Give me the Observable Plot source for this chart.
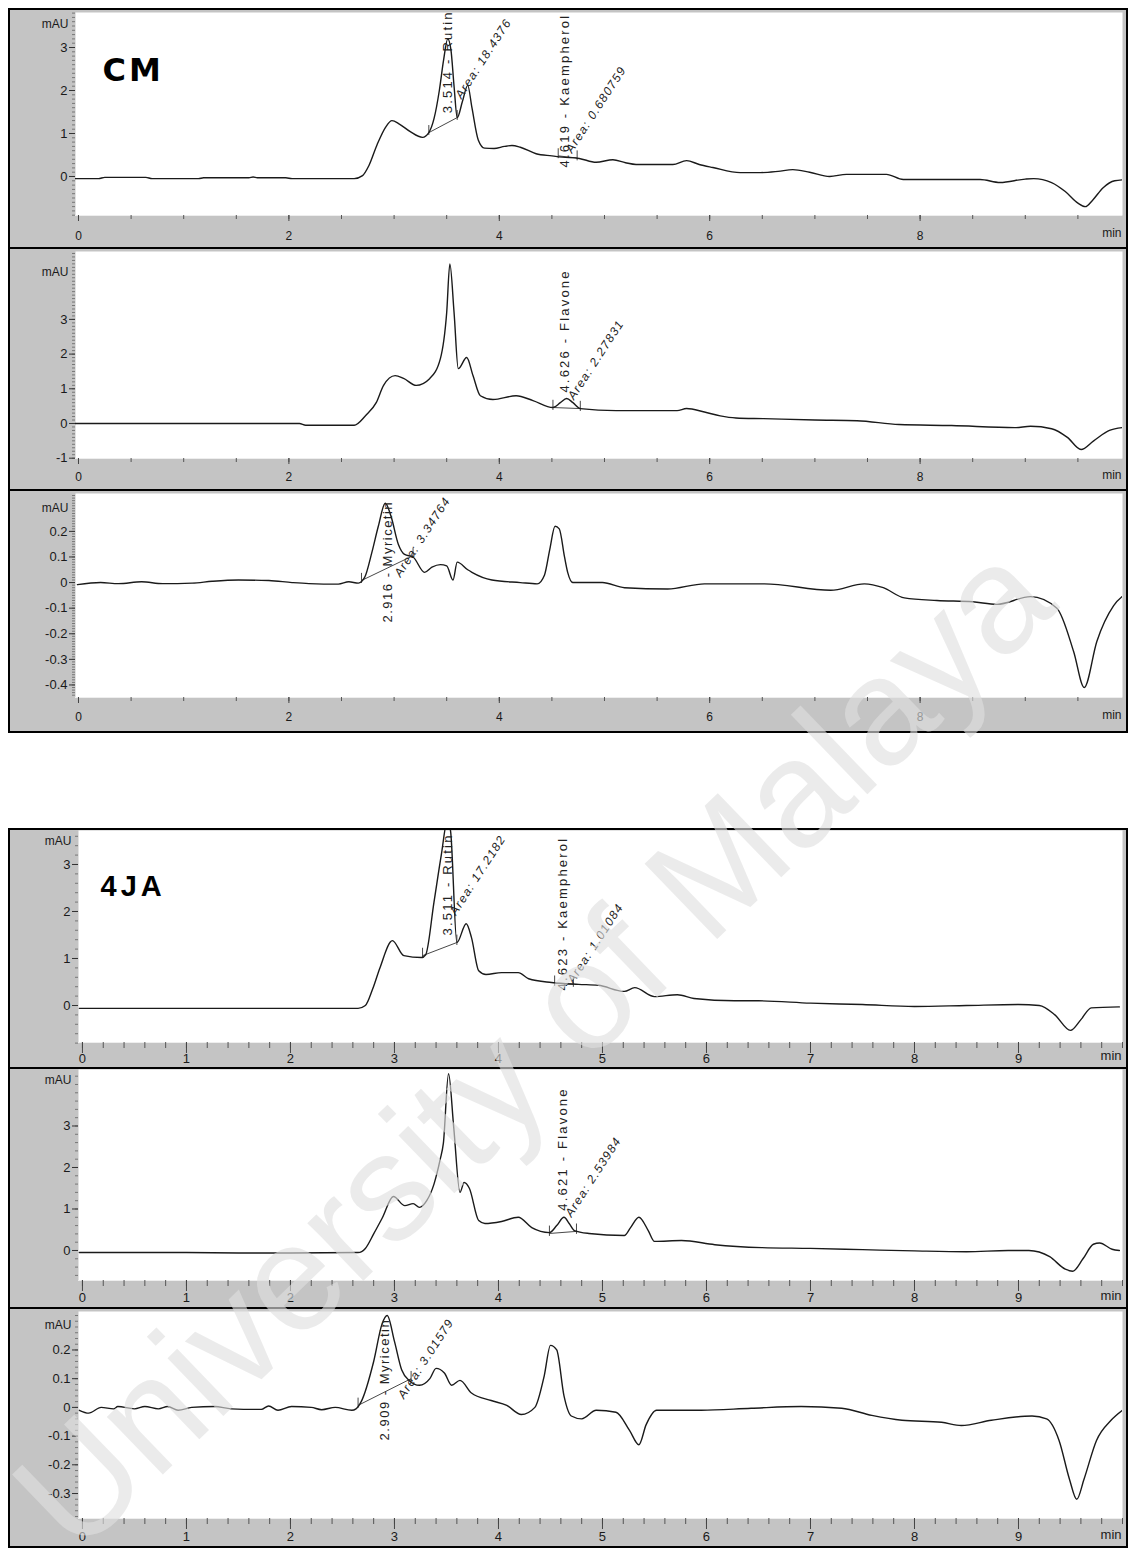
<!DOCTYPE html>
<html><head><meta charset="utf-8">
<script src="https://cdn.jsdelivr.net/npm/d3@7"></script>
<script src="https://cdn.jsdelivr.net/npm/@observablehq/plot@0.6"></script>
<style>
body{margin:0;background:#fff;}
#page{position:relative;width:1130px;height:1548px;overflow:hidden;background:#fff;font-family:Arial,"Liberation Sans",sans-serif;}
.box{position:absolute;border:2px solid #000;box-sizing:border-box;}
.sep{position:absolute;height:2px;background:#000;}
.panel{position:absolute;}
.panel svg{display:block;}
#wm{position:absolute;left:532px;top:1045px;transform:translate(-50%,-50%) rotate(-44deg);white-space:nowrap;font:152px Arial,"Liberation Sans",sans-serif;color:rgba(222,222,222,0.62);pointer-events:none;}
</style></head>
<body><div id="page"></div>
<script>
// ---------- data (time in min, absorbance in mAU) ----------
const sampleTags = ["CM", "4JA"];
const axisUnit = "mAU";
const timeUnit = "min";

const cmTraceA = [[-0.03,-0.05],[0.19,-0.05],[0.25,-0.02],[0.64,-0.02],[0.7,-0.05],[1.14,-0.05],[1.19,-0.03],[1.62,-0.03],[1.66,-0.01],[1.7,-0.03],[1.97,-0.03],[2.03,-0.05],[2.62,-0.05],[2.7,0.02],[2.76,0.25],[2.84,0.75],[2.92,1.15],[2.98,1.3],[3.05,1.22],[3.15,1.05],[3.27,0.91],[3.33,1.02],[3.38,1.35],[3.43,2.0],[3.47,2.7],[3.51,3.2],[3.54,2.95],[3.57,2.1],[3.6,1.37],[3.65,1.75],[3.7,2.12],[3.74,1.6],[3.8,0.85],[3.86,0.66],[3.95,0.65],[4.05,0.7],[4.12,0.72],[4.2,0.68],[4.35,0.53],[4.5,0.48],[4.6,0.45],[4.76,0.42],[4.92,0.33],[5.08,0.39],[5.2,0.32],[5.3,0.28],[5.65,0.28],[5.78,0.37],[5.9,0.28],[6.03,0.21],[6.29,0.09],[6.48,0.09],[6.65,0.12],[6.79,0.16],[6.95,0.1],[7.14,0.0],[7.3,0.05],[7.68,0.05],[7.84,-0.07],[8.57,-0.07],[8.76,-0.14],[9.0,-0.06],[9.08,-0.05],[9.25,-0.14],[9.38,-0.35],[9.5,-0.62],[9.57,-0.7],[9.64,-0.55],[9.74,-0.26],[9.85,-0.1],[9.97,-0.07]];
const cmTraceB = [[-0.03,0],[0.5,0],[1.0,0],[1.5,0],[2.1,0],[2.16,-0.05],[2.62,-0.05],[2.73,0.23],[2.83,0.6],[2.9,1.1],[3.01,1.38],[3.09,1.3],[3.21,1.1],[3.34,1.3],[3.44,1.87],[3.5,3.2],[3.53,4.6],[3.57,3.2],[3.61,1.58],[3.69,1.9],[3.75,1.38],[3.82,0.8],[3.94,0.69],[4.16,0.8],[4.32,0.66],[4.51,0.46],[4.58,0.6],[4.64,0.72],[4.7,0.6],[4.77,0.43],[5.11,0.37],[5.69,0.37],[5.78,0.43],[5.95,0.33],[6.1,0.22],[6.25,0.16],[6.51,0.14],[7.0,0.1],[7.4,0.08],[7.8,-0.03],[8.3,-0.06],[8.9,-0.12],[9.05,-0.08],[9.25,-0.15],[9.4,-0.4],[9.53,-0.75],[9.65,-0.5],[9.8,-0.2],[9.92,-0.12]];
const cmTraceC = [[-0.01,-0.008],[0.21,0.0],[0.38,-0.004],[0.6,0.003],[0.8,-0.004],[1.08,-0.002],[1.27,0.005],[1.52,0.01],[1.81,0.008],[2.03,0.0],[2.19,-0.004],[2.47,-0.006],[2.57,0.003],[2.66,-0.002],[2.72,0.02],[2.79,0.12],[2.85,0.22],[2.916,0.31],[2.97,0.26],[3.04,0.15],[3.1,0.11],[3.18,0.1],[3.29,0.04],[3.36,0.06],[3.44,0.07],[3.5,0.065],[3.56,0.01],[3.6,0.08],[3.7,0.05],[3.74,0.04],[3.93,0.01],[4.2,0.0],[4.36,-0.005],[4.43,0.03],[4.48,0.13],[4.53,0.22],[4.57,0.21],[4.62,0.1],[4.65,0.04],[4.7,0.0],[4.98,0.0],[5.19,-0.02],[5.6,-0.025],[5.95,-0.005],[6.52,-0.005],[7.15,-0.03],[7.47,-0.005],[7.65,-0.02],[7.85,-0.06],[8.16,-0.07],[8.5,-0.075],[8.73,-0.085],[9.05,-0.055],[9.3,-0.1],[9.46,-0.27],[9.56,-0.41],[9.68,-0.23],[9.84,-0.09],[9.95,-0.045]];
const jaTraceA = [[-0.03,-0.06],[1.0,-0.06],[2.0,-0.06],[2.65,-0.06],[2.72,0.0],[2.79,0.35],[2.86,0.8],[2.98,1.38],[3.09,1.06],[3.26,1.02],[3.3,1.08],[3.38,2.2],[3.45,3.2],[3.51,3.95],[3.54,3.7],[3.6,1.34],[3.69,1.74],[3.74,1.45],[3.81,0.74],[3.88,0.66],[4.03,0.7],[4.19,0.7],[4.29,0.57],[4.51,0.49],[4.77,0.45],[4.96,0.43],[5.21,0.3],[5.31,0.38],[5.5,0.19],[5.72,0.23],[5.88,0.15],[6.27,0.1],[6.5,0.1],[7.0,0.05],[7.5,0.02],[8.0,-0.02],[8.5,0.0],[9.0,0.02],[9.2,0.0],[9.35,-0.2],[9.5,-0.53],[9.6,-0.3],[9.7,-0.05],[9.97,-0.03]];
const jaTraceB = [[-0.03,-0.05],[1.0,-0.05],[1.5,-0.06],[2.0,-0.06],[2.65,-0.05],[2.72,0.05],[2.8,0.4],[2.88,0.77],[2.99,1.3],[3.1,1.08],[3.18,1.13],[3.24,1.04],[3.31,1.2],[3.38,1.6],[3.44,2.2],[3.47,2.58],[3.52,4.26],[3.57,2.96],[3.63,1.4],[3.67,1.64],[3.72,1.5],[3.81,0.72],[3.87,0.65],[4.03,0.7],[4.19,0.8],[4.32,0.55],[4.49,0.43],[4.56,0.6],[4.63,0.8],[4.68,0.65],[4.73,0.48],[4.87,0.41],[5.21,0.36],[5.27,0.55],[5.35,0.8],[5.44,0.48],[5.5,0.22],[5.76,0.24],[6.08,0.14],[6.53,0.07],[7.0,0.05],[7.5,0.02],[8.0,-0.01],[8.5,-0.03],[8.9,0.0],[9.1,0.0],[9.3,-0.15],[9.45,-0.45],[9.52,-0.5],[9.62,-0.2],[9.72,0.15],[9.78,0.18],[9.9,0.03],[9.97,0.0]];
const jaTraceC = [[-0.03,-0.01],[0.06,-0.02],[0.18,0.0],[0.3,-0.005],[0.34,0.003],[0.5,-0.005],[0.6,0.003],[0.73,-0.005],[0.82,0.003],[0.92,-0.01],[1.05,0.0],[1.27,0.003],[1.43,-0.005],[1.72,-0.007],[1.79,0.005],[1.88,-0.01],[2.01,0.003],[2.2,0.0],[2.3,-0.008],[2.43,0.0],[2.59,-0.01],[2.63,-0.005],[2.68,0.02],[2.8,0.16],[2.88,0.29],[2.93,0.32],[3.0,0.23],[3.07,0.13],[3.14,0.094],[3.24,0.077],[3.34,0.1],[3.4,0.136],[3.48,0.12],[3.55,0.077],[3.63,0.094],[3.74,0.05],[3.93,0.024],[4.08,0.007],[4.22,-0.025],[4.35,0.0],[4.44,0.11],[4.5,0.216],[4.56,0.2],[4.63,0.04],[4.7,-0.03],[4.8,-0.04],[4.94,-0.01],[5.13,-0.017],[5.26,-0.08],[5.35,-0.13],[5.42,-0.06],[5.52,-0.01],[5.95,-0.01],[6.43,-0.003],[6.91,0.003],[7.3,-0.003],[7.59,-0.028],[7.88,-0.045],[8.26,-0.052],[8.45,-0.063],[8.74,-0.045],[9.13,-0.03],[9.27,-0.04],[9.39,-0.115],[9.49,-0.25],[9.56,-0.32],[9.63,-0.25],[9.75,-0.115],[9.89,-0.045],[10.0,-0.01]];

// peak identifications, integration areas, integration baselines
const cmNamesA = [{t:3.514,v:1.47,label:"3.514 - Rutin"},{t:4.619,v:0.21,label:"4.619 - Kaempherol"}];
const cmAreasA = [{t:3.61,v:1.84,label:"Area: 18.4376"},{t:4.66,v:0.58,label:"Area: 0.680759"}];
const cmBaseA = [{t1:3.33,v1:1.02,t2:3.6,v2:1.37},{t1:4.56,v1:0.48,t2:4.74,v2:0.43}];
const cmNamesB = [{t:4.626,v:0.89,label:"4.626 - Flavone"}];
const cmAreasB = [{t:4.68,v:0.72,label:"Area: 2.27831"}];
const cmBaseB = [{t1:4.51,v1:0.46,t2:4.77,v2:0.43}];
const cmNamesC = [{t:2.94,v:-0.156,label:"2.916 - Myricetin"}];
const cmAreasC = [{t:3.03,v:0.027,label:"Area: 3.34764"}];
const cmBaseC = [{t1:2.69,v1:0.008,t2:3.18,v2:0.105}];
const jaNamesA = [{t:3.511,v:1.49,label:"3.511 - Rutin"},{t:4.623,v:0.32,label:"4.623 - Kaempherol"}];
const jaAreasA = [{t:3.56,v:1.95,label:"Area: 17.2182"},{t:4.69,v:0.5,label:"Area: 1.01084"}];
const jaBaseA = [{t1:3.27,v1:1.06,t2:3.6,v2:1.34},{t1:4.54,v1:0.47,t2:4.72,v2:0.45}];
const jaNamesB = [{t:4.621,v:0.96,label:"4.621 - Flavone"}];
const jaAreasB = [{t:4.67,v:0.84,label:"Area: 2.53984"}];
const jaBaseB = [{t1:4.49,v1:0.41,t2:4.75,v2:0.46}];
const jaNamesC = [{t:2.909,v:-0.115,label:"2.909 - Myricetin"}];
const jaAreasC = [{t:3.06,v:0.035,label:"Area: 3.01579"}];
const jaBaseC = [{t1:2.65,v1:0.007,t2:3.16,v2:0.1}];

// tick labels
const xTicksCM = [0,2,4,6,8];
const xTicksJA = [0,1,2,3,4,5,6,7,8,9];
const yTicksBig = [0,1,2,3];
const yTicksBigNeg = [-1,0,1,2,3];
const yTicksSmallCM = [-0.4,-0.3,-0.2,-0.1,0,0.1,0.2];
const yTicksSmallJA = [-0.3,-0.2,-0.1,0,0.1,0.2];

// ---------- layout ----------
const G1 = {ml:65, x:[-0.0285, 9.924], xMinor:d3.range(0, 9.95, 0.5), xMaj:6, xMin:4, xFont:12};
const G2 = {ml:68, x:[-0.038, 10.0], xMinor:d3.range(0, 10.01, 0.2), xMaj:11, xMin:6, xFont:13};
const panels = [
  {g:G1, top:10, h:237, mt:2, mb:32, y:[-0.907,3.814], trace:cmTraceA, names:cmNamesA, areas:cmAreasA, base:cmBaseA, xTicks:xTicksCM, yTicks:yTicksBig, yMinor:d3.range(-0.9,3.85,0.1), xPad:10, minDy:21, mauDy:7, tag:sampleTags[0]},
  {g:G1, top:249, h:240, mt:2, mb:31, y:[-1.009,4.957], trace:cmTraceB, names:cmNamesB, areas:cmAreasB, base:cmBaseB, xTicks:xTicksCM, yTicks:yTicksBigNeg, yMinor:d3.range(-1,4.95,0.1), xPad:8, minDy:20, mauDy:16},
  {g:G1, top:491, h:240, mt:2, mb:34, y:[-0.449,0.348], trace:cmTraceC, names:cmNamesC, areas:cmAreasC, base:cmBaseC, xTicks:xTicksCM, yTicks:yTicksSmallCM, yMinor:d3.range(-0.44,0.35,0.01), xPad:9, minDy:21, mauDy:10},
  {g:G2, top:830, h:237, mt:0, mb:25, y:[-0.787,3.723], trace:jaTraceA, names:jaNamesA, areas:jaAreasA, base:jaBaseA, xTicks:xTicksJA, yTicks:yTicksBig, yMinor:d3.range(-0.8,3.75,0.2), xPad:0, minDy:17, mauDy:6, tag:sampleTags[1]},
  {g:G2, top:1069, h:238, mt:0, mb:27, y:[-0.723,4.361], trace:jaTraceB, names:jaNamesB, areas:jaAreasB, base:jaBaseB, xTicks:xTicksJA, yTicks:yTicksBig, yMinor:d3.range(-0.6,4.4,0.2), xPad:1, minDy:19, mauDy:6},
  {g:G2, top:1309, h:237, mt:2, mb:28, y:[-0.387,0.334], trace:jaTraceC, names:jaNamesC, areas:jaAreasC, base:jaBaseC, xTicks:xTicksJA, yTicks:yTicksSmallJA, yMinor:d3.range(-0.38,0.34,0.02), xPad:2, minDy:20, mauDy:9}
];

const fmtY = d => (d < 0 ? "-" : "") + String(Math.abs(d));

function makePanel(p) {
  const pts = p.trace.map(([t, v]) => ({t, v}));
  const span = p.y[1] - p.y[0];
  const mk = span * 0.035;
  const markers = p.base.flatMap(b => [{t:b.t1, v:b.v1}, {t:b.t2, v:b.v2}]);
  const marks = [
    Plot.frame({fill:"white", stroke:null}),
    Plot.ruleY([p.y[0]], {stroke:"#eeeeee", strokeWidth:1}),
    Plot.axisX({ticks:p.g.xMinor, tickSize:p.g.xMin, tickFormat:() => "", stroke:"#555", label:null}),
    Plot.axisX({ticks:p.xTicks, tickSize:p.g.xMaj, tickPadding:p.xPad, tickFormat:d => String(d), fontSize:p.g.xFont, stroke:"#444", fill:"#1a1a1a", label:null}),
    Plot.axisY({ticks:p.yMinor, tickSize:3, tickFormat:() => "", stroke:"#777", label:null}),
    Plot.axisY({ticks:p.yTicks, tickSize:6, tickPadding:2, tickFormat:fmtY, fontSize:13, stroke:"#333", fill:"#1a1a1a", label:null}),
    Plot.text([axisUnit], {frameAnchor:"top-left", textAnchor:"end", dx:-7, dy:p.mauDy, fontSize:12, fill:"#1a1a1a"}),
    Plot.text([timeUnit], {frameAnchor:"bottom-right", textAnchor:"end", dx:-1, dy:p.minDy, fontSize:p.g.xFont, fill:"#1a1a1a"}),
    Plot.link(p.base, {x1:"t1", y1:"v1", x2:"t2", y2:"v2", stroke:"#333", strokeWidth:0.9}),
    Plot.ruleX(markers, {x:"t", y1:d => d.v - mk * 0.4, y2:d => d.v + mk, stroke:"#333", strokeWidth:0.9}),
    Plot.line(pts, {x:"t", y:"v", stroke:"#1a1a1a", strokeWidth:1.4, curve:"monotone-x", clip:true}),
    Plot.text(p.names, {x:"t", y:"v", text:"label", rotate:-90, textAnchor:"start", fontSize:13, fill:"#222"}),
    Plot.text(p.areas, {x:"t", y:"v", text:"label", rotate:-57, textAnchor:"start", fontSize:12, fontStyle:"italic", fill:"#222"})
  ];
  if (p.tag) {
    const isCM = p.tag === "CM";
    marks.push(Plot.text([p.tag], {frameAnchor:"top-left", textAnchor:"start", dx:isCM ? 27 : 22, dy:isCM ? 46 : 45,
      fontSize:isCM ? 32 : 29, fontWeight:"bold", fontFamily:isCM ? "DejaVu Sans" : "Arial, Liberation Sans", fill:"#000"}));
  }
  const svg = Plot.plot({
    width:1116, height:p.h,
    marginLeft:p.g.ml, marginRight:4, marginTop:p.mt, marginBottom:p.mb,
    x:{domain:p.g.x, label:null}, y:{domain:p.y, label:null},
    style:{background:"#c4c4c4", fontFamily:"Arial, Liberation Sans, sans-serif", fontSize:"11px", color:"#1a1a1a", overflow:"hidden"},
    marks
  });
  svg.querySelectorAll("text").forEach(t => {
    const s = t.textContent;
    if (/Myricetin/.test(s)) t.style.letterSpacing = "1.5px";
    else if (/ - /.test(s)) t.style.letterSpacing = "2.2px";
    else if (s.startsWith("Area")) t.style.letterSpacing = "1.3px";
    else if (s === "CM") t.style.letterSpacing = "3px";
    else if (s === "4JA") t.style.letterSpacing = "4px";
  });
  return svg;
}

const page = document.getElementById("page");
function addDiv(cls, css) { const d = document.createElement("div"); d.className = cls; Object.assign(d.style, css); page.appendChild(d); return d; }

panels.forEach(p => {
  const d = addDiv("panel", {left:"10px", top:p.top + "px", width:"1116px", height:p.h + "px"});
  d.appendChild(makePanel(p));
});
addDiv("box", {left:"8px", top:"8px", width:"1120px", height:"725px"});
addDiv("sep", {left:"8px", top:"247px", width:"1120px"});
addDiv("sep", {left:"8px", top:"489px", width:"1120px"});
addDiv("box", {left:"8px", top:"828px", width:"1120px", height:"720px"});
addDiv("sep", {left:"8px", top:"1067px", width:"1120px"});
addDiv("sep", {left:"8px", top:"1307px", width:"1120px"});
const wm = addDiv("", {}); wm.id = "wm"; wm.textContent = "University of Malaya";
</script>
</body></html>
